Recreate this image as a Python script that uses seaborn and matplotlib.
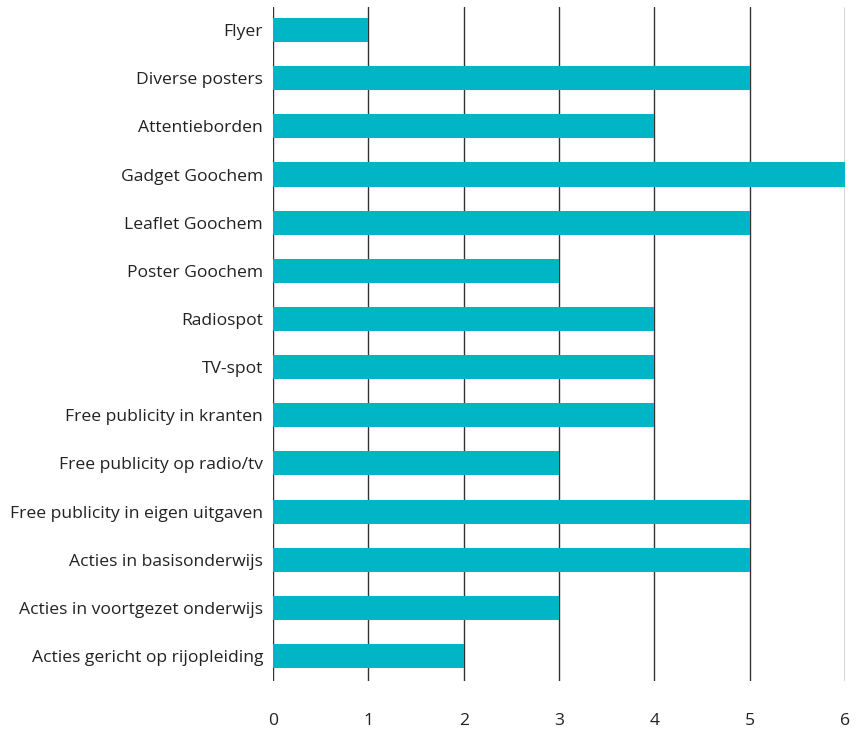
import matplotlib
matplotlib.use("Agg")
import matplotlib.pyplot as plt
import seaborn as sns
import pandas as pd

categories = [
    "Flyer",
    "Diverse posters",
    "Attentieborden",
    "Gadget Goochem",
    "Leaflet Goochem",
    "Poster Goochem",
    "Radiospot",
    "TV-spot",
    "Free publicity in kranten",
    "Free publicity op radio/tv",
    "Free publicity in eigen uitgaven",
    "Acties in basisonderwijs",
    "Acties in voortgezet onderwijs",
    "Acties gericht op rijopleiding",
]
values = [1, 5, 4, 6, 5, 3, 4, 4, 4, 3, 5, 5, 3, 2]
x_ticks = [0, 1, 2, 3, 4, 5, 6]

df = pd.DataFrame({"item": categories, "score": values})

sns.set_theme(style="white")
plt.rcParams["font.family"] = ["Open Sans", "DejaVu Sans"]

fig = plt.figure(figsize=(8.6, 7.33), dpi=100)
ax = fig.add_axes([0.3174, 0.0709, 0.6652, 0.9196])

sns.barplot(data=df, x="score", y="item", orient="h", color="#00B5C6",
            saturation=1, width=0.5, linewidth=0, ax=ax, zorder=3)

ax.set_xlim(0, 6)
ax.set_ylim(13.52, -0.48)
ax.set_xticks(x_ticks)
ax.set_xticklabels([str(t) for t in x_ticks])
for t in x_ticks:
    ax.axvline(t, color="#333333", lw=1.0, zorder=1)

for s in ax.spines.values():
    s.set_visible(False)

ax.tick_params(axis="x", length=0, pad=23, labelsize=12.6, colors="#222222")
ax.tick_params(axis="y", length=0, pad=7, labelsize=12.6, colors="#222222")
ax.set_xlabel("")
ax.set_ylabel("")

fig.savefig("out.png", dpi=100, facecolor="white")
